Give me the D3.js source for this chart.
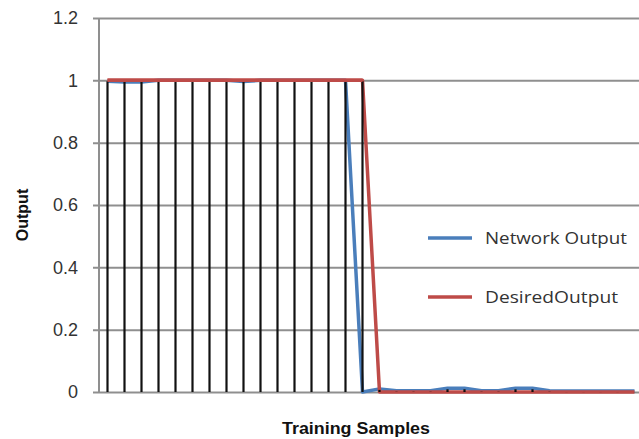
<!DOCTYPE html>
<html><head><meta charset="utf-8">
<script src="https://cdn.jsdelivr.net/npm/d3@7"></script>
<style>body{margin:0;background:#fff;}svg{display:block;}</style>
</head><body>
<svg id="c" width="639" height="439"></svg>
<script>
const samples = d3.range(1, 33);
const networkOutput = [0.997,0.995,0.995,1,1,1,1,1,0.996,1,1,1,1,1,1,0,
  0.01,0.004,0.004,0.004,0.012,0.012,0.004,0.004,0.012,0.012,0.004,0.003,0.003,0.003,0.003,0.003];
const desiredOutput = [1,1,1,1,1,1,1,1,1,1,1,1,1,1,1,1,
  0,0,0,0,0,0,0,0,0,0,0,0,0,0,0,0];
const yTicks = [0,0.2,0.4,0.6,0.8,1,1.2];
const yTickLabels = ["0","0.2","0.4","0.6","0.8","1","1.2"];
const seriesNames = ["Network Output","DesiredOutput"];
const colors = ["#4a7ebb","#be4b48"];

(function(){
const svg = d3.select("#c");
const mLeft = 99, mRight = 643, mTop = 18, mBottom = 392;
const x = d3.scaleBand().domain(samples).range([mLeft, mRight]);
const y = d3.scaleLinear().domain([0, 1.2]).range([mBottom, mTop]);
const cx = d => x(d) + x.bandwidth()/2;

// gridlines + ticks
const yAxis = d3.axisLeft(y).tickValues(yTicks).tickSize(6).tickFormat((d,i)=>yTickLabels[i]);
const g = svg.append("g").attr("transform", `translate(${mLeft},0)`).call(yAxis);
g.select(".domain").remove();
g.selectAll(".tick line").attr("x1", -6).attr("x2", 639 - mLeft).attr("stroke", "#8f8f8f").attr("stroke-width", 2);
g.selectAll(".tick text").attr("x", -21).attr("fill", "#333").attr("font-family", "Liberation Sans, Arial, sans-serif").attr("font-size", 18);

// y axis line
svg.append("line").attr("x1", mLeft).attr("x2", mLeft).attr("y1", y(1.2)).attr("y2", y(0)).attr("stroke", "#8f8f8f").attr("stroke-width", 2);

// series
const line = d3.line().x((d,i)=>cx(samples[i])).y(d=>y(d));
[networkOutput, desiredOutput].forEach((s, k) => {
  svg.append("path").datum(s).attr("d", line).attr("fill", "none")
    .attr("stroke", colors[k]).attr("stroke-width", 3.5).attr("stroke-linejoin", "round");
});

// drop lines
svg.append("g").selectAll("line").data(samples).join("line")
  .attr("x1", d=>cx(d)).attr("x2", d=>cx(d))
  .attr("y1", (d,i)=>y(Math.max(networkOutput[i], desiredOutput[i])) + 1)
  .attr("y2", y(0))
  .attr("stroke", "#111").attr("stroke-width", 2.2);

// redraw red top edge so it sits over drop lines at value 1
svg.append("path").datum(desiredOutput.map((v,i)=>[i,v]).filter(p=>p[1]===1))
  .attr("d", d3.line().x(p=>cx(samples[p[0]])).y(p=>y(p[1])))
  .attr("fill","none").attr("stroke", colors[1]).attr("stroke-width", 3.5);

// axis titles
svg.append("text").attr("x", 282).attr("y", 434)
  .attr("font-family", "Liberation Sans, Arial, sans-serif").attr("font-weight", "bold").attr("font-size", 17)
  .attr("textLength", 148).attr("lengthAdjust", "spacingAndGlyphs")
  .attr("fill", "#111").text("Training Samples");
svg.append("text").attr("transform", "translate(28,215) rotate(-90)").attr("text-anchor", "middle")
  .attr("font-family", "Liberation Sans, Arial, sans-serif").attr("font-weight", "bold").attr("font-size", 16)
  .attr("fill", "#111").text("Output");

// legend
const ly = [238, 297];
const lw = [142, 133];
seriesNames.forEach((n, k) => {
  svg.append("line").attr("x1", 428).attr("x2", 472).attr("y1", ly[k]).attr("y2", ly[k])
    .attr("stroke", colors[k]).attr("stroke-width", 3.5);
  svg.append("text").attr("x", 485).attr("y", ly[k] + 6).attr("fill", "#333")
    .attr("font-family", "Open Sans, Liberation Sans, sans-serif").attr("font-size", 17)
    .attr("textLength", lw[k]).attr("lengthAdjust", "spacingAndGlyphs").text(n);
});
})();
</script>
</body></html>
